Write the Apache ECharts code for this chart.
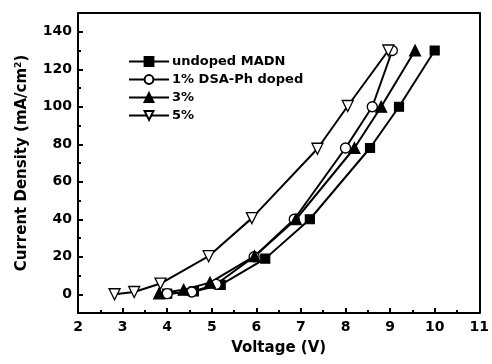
<!DOCTYPE html>
<html><head><meta charset="utf-8">
<script src="https://cdn.jsdelivr.net/npm/echarts@6/dist/echarts.min.js"></script>
<style>html,body{margin:0;padding:0;background:#fff}#c{width:492px;height:364px}</style>
</head><body><div id="c"></div>
<script>
// Data
var undopedX = [4.0, 4.6, 5.2, 6.2, 7.2, 8.55, 9.2, 10.0];
var undopedY = [0.3, 1.5, 5, 19, 40, 78, 100, 130];
var dsa1X = [4.0, 4.55, 5.1, 5.95, 6.85, 8.0, 8.6, 9.05];
var dsa1Y = [0.3, 1.2, 5.3, 20, 40, 78, 100, 130];
var dsa3X = [3.82, 4.37, 4.96, 5.96, 6.89, 8.2, 8.8, 9.56];
var dsa3Y = [0.5, 2.4, 6.2, 20.3, 40, 78, 100, 130];
var dsa5X = [2.82, 3.26, 3.85, 4.93, 5.9, 7.37, 8.05, 8.96];
var dsa5Y = [0, 1.2, 5.7, 20.3, 40.6, 77.6, 100.4, 130];
var seriesNames = ['undoped MADN', '1% DSA-Ph doped', '3%', '5%'];
var yTickLabels = [0, 20, 40, 60, 80, 100, 120, 140];
var yMinorTicks = [10, 30, 50, 70, 90, 110, 130];
var xTickLabels = [2, 3, 4, 5, 6, 7, 8, 9, 10, 11];
var xMinorTicks = [2.5, 3.5, 4.5, 5.5, 6.5, 7.5, 8.5, 9.5, 10.5];

function pairs(xs, ys) { return xs.map(function (x, i) { return [x, ys[i]]; }); }

var font = '"DejaVu Sans", Arial, sans-serif';
var chart = echarts.init(document.getElementById('c'), null, { renderer: 'canvas' });
function bl() { return { color: '#000', width: 2 }; }
var XR = { type: 'value', min: 2, max: 11, interval: 1 };
var YR = { type: 'value', min: -10, max: 150 };
// tick-only axes: outward ticks on a shifted axis emulate inward ticks
function xTickAxis(values, len) {
  return Object.assign({}, XR, { position: 'bottom', offset: -len,
    axisLine: { show: false, onZero: false },
    axisTick: { show: true, inside: false, length: len, customValues: values, lineStyle: bl() },
    axisLabel: { show: false, customValues: values }, splitLine: { show: false } });
}
function yTickAxis(values, len) {
  return Object.assign({}, YR, { position: 'left', offset: -len,
    axisLine: { show: false, onZero: false },
    axisTick: { show: true, inside: false, length: len, customValues: values, lineStyle: bl() },
    axisLabel: { show: false, customValues: values }, splitLine: { show: false } });
}
var base = {
  type: 'line', lineStyle: { color: '#000', width: 2 },
  itemStyle: { color: '#000', borderColor: '#000', borderWidth: 1.2 }, z: 3
};
chart.setOption({
  animation: false,
  backgroundColor: '#fff',
  grid: { left: 78, right: 11, top: 13, bottom: 51 },
  legend: {
    left: 128, top: 55, padding: 0, orient: 'vertical', itemWidth: 40, itemHeight: 11, itemGap: 5,
    textStyle: { fontFamily: font, fontWeight: 'bold', fontSize: 13, color: '#000', lineHeight: 13, padding: [0, 0, 0, -2] },
    data: seriesNames
  },
  xAxis: [Object.assign({}, XR, {
    position: 'bottom',
    name: 'Voltage (V)', nameLocation: 'middle', nameGap: 28,
    nameTextStyle: { fontFamily: font, fontWeight: 'bold', fontSize: 15, color: '#000' },
    axisLine: { show: true, onZero: false, lineStyle: bl() },
    axisTick: { show: false },
    axisLabel: { fontFamily: font, fontWeight: 'bold', fontSize: 14, color: '#000', margin: 7,
      formatter: function (v) { return xTickLabels.indexOf(v) >= 0 ? String(v) : ''; } },
    splitLine: { show: false }
  }), Object.assign({}, XR, {
    position: 'top',
    axisLine: { show: true, onZero: false, lineStyle: bl() },
    axisTick: { show: false }, axisLabel: { show: false }, splitLine: { show: false }
  }), xTickAxis(xTickLabels, 5), xTickAxis(xMinorTicks, 3)],
  yAxis: [Object.assign({}, YR, {
    position: 'left',
    name: '{a|Current Density (mA/cm}{s|2}{a|)}', nameLocation: 'middle', nameGap: 47,
    nameTextStyle: { rich: {
      a: { fontFamily: font, fontWeight: 'bold', fontSize: 15, color: '#000' },
      s: { fontFamily: font, fontWeight: 'bold', fontSize: 9, color: '#000', verticalAlign: 'top', padding: [0, 0, 8, 0] }
    } },
    axisLine: { show: true, onZero: false, lineStyle: bl() },
    axisTick: { show: false },
    axisLabel: { customValues: yTickLabels, fontFamily: font, fontWeight: 'bold', fontSize: 14, color: '#000', margin: 6 },
    splitLine: { show: false }
  }), Object.assign({}, YR, {
    position: 'right',
    axisLine: { show: true, onZero: false, lineStyle: bl() },
    axisTick: { show: false }, axisLabel: { show: false }, splitLine: { show: false }
  }), yTickAxis(yTickLabels, 5), yTickAxis(yMinorTicks, 3)],
  series: [
    Object.assign({}, base, { name: seriesNames[0], symbol: 'rect', symbolSize: 9, data: pairs(undopedX, undopedY) }),
    Object.assign({}, base, { name: seriesNames[1], symbol: 'circle', symbolSize: 10,
      itemStyle: { color: '#fff', borderColor: '#000', borderWidth: 1.3 }, data: pairs(dsa1X, dsa1Y) }),
    Object.assign({}, base, { name: seriesNames[2], symbol: 'triangle', symbolSize: 11, data: pairs(dsa3X, dsa3Y) }),
    Object.assign({}, base, { name: seriesNames[3], symbol: 'triangle', symbolRotate: 180, symbolSize: 11,
      itemStyle: { color: '#fff', borderColor: '#000', borderWidth: 1.3 }, data: pairs(dsa5X, dsa5Y) })
  ]
});
</script></body></html>
